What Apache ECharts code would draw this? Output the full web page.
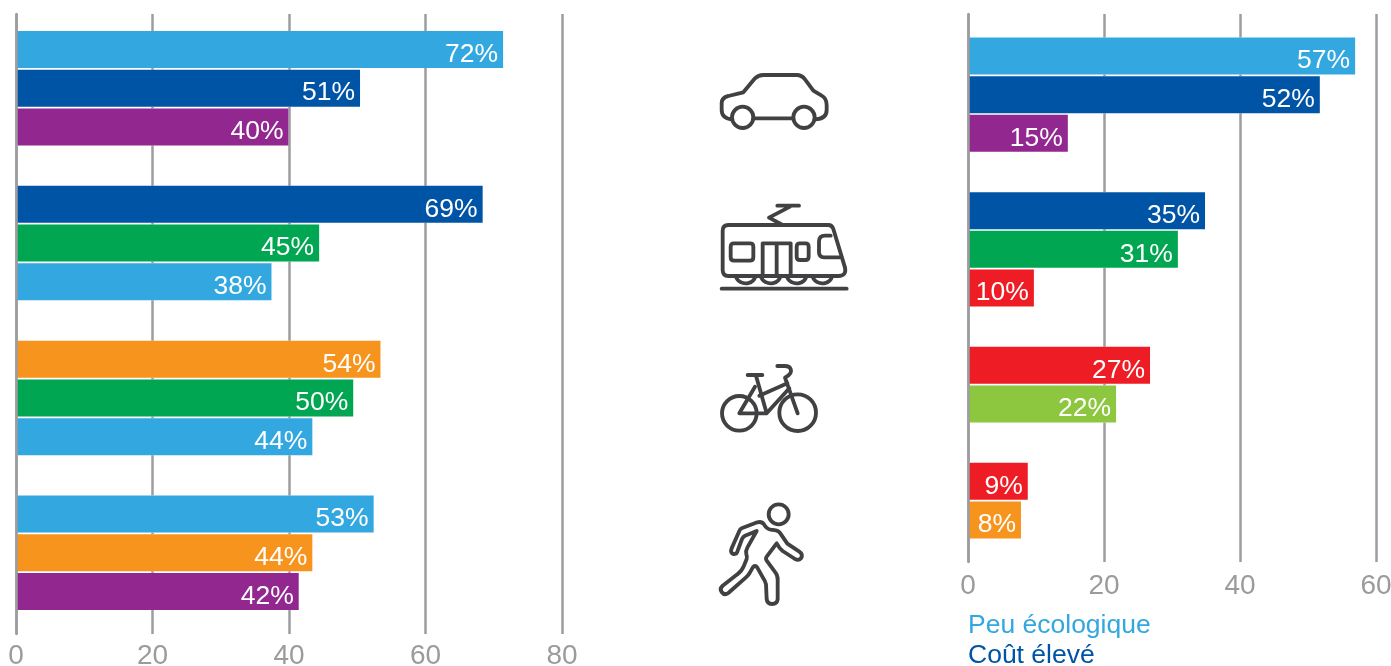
<!DOCTYPE html>
<html><head><meta charset="utf-8">
<style>html,body{margin:0;padding:0;background:#fff}#c{width:1391px;height:666px}</style>
<script src="https://cdn.jsdelivr.net/npm/echarts@6/dist/echarts.min.js"></script>
</head><body><div id="c"></div>
<script>
// ---------- data ----------
const leftCategories = ['Voiture a','Voiture b','Voiture c','','Train a','Train b','Train c',' ','Vélo a','Vélo b','Vélo c','  ','Marche a','Marche b','Marche c'];
const leftValues = [71.5,50.5,40,null,68.5,44.5,37.5,null,53.5,49.5,43.5,null,52.5,43.5,41.5];
const leftKinds  = ['sky','navy','purple',null,'navy','green','sky',null,'orange','green','sky',null,'sky','orange','purple'];
const rightCategories = ['Voiture a','Voiture b','Voiture c','','Train a','Train b','Train c',' ','Vélo a','Vélo b','  ','Marche a','Marche b'];
const rightValues = [57,51.8,14.7,null,34.9,30.9,9.7,null,26.8,21.8,null,8.8,7.8];
const rightKinds  = ['sky','navy','purple',null,'navy','green','red',null,'red','lime',null,'red','orange'];
const legendNames = ['Peu écologique','Coût élevé'];
const leftTicks = {min:0,max:80,interval:20};
const rightTicks = {min:0,max:60,interval:20};

// ---------- styles ----------
const palette = {sky:'#33a8e0',navy:'#0054a6',purple:'#92278f',green:'#00a651',orange:'#f7941e',red:'#ee1c25',lime:'#8dc63f'};
const gridColor = '#9d9d9f', iconColor = '#414042', font = '"Liberation Sans", Arial, sans-serif';
const icons = [
 {x:700,y:60,paths:[
  'M95 178 Q65 175 65 150 L65 130 Q65 112 85 108 L130 97 L165 55 Q175 45 190 45 L290 45 Q305 45 315 58 L340 92 L365 107 Q380 115 380 135 L380 150 Q380 177 345 178',
  'M160 175 L278 175',
  'M96 172 A32 32 0 1 0 160 172 A32 32 0 1 0 96 172 Z',
  'M280 172 A32 32 0 1 0 344 172 A32 32 0 1 0 280 172 Z']},
 {x:700,y:195,paths:[
  'M232 32 L297 32 M270 35 L207 68 L248 90',
  'M85 90 L385 90 Q396 90 400 102 L435 218 Q440 243 415 243 L85 243 Q68 243 68 225 L68 107 Q68 90 85 90 Z',
  'M102 145 L150 145 Q160 145 160 155 L160 187 Q160 197 150 197 L102 197 Q92 197 92 187 L92 155 Q92 145 102 145 Z',
  'M188 243 L188 145 L272 145 L272 243 M230 145 L230 243',
  'M300 145 L316 145 Q326 145 326 155 L326 185 Q326 195 316 195 L300 195 Q290 195 290 185 L290 155 Q290 145 300 145 Z',
  'M392 122 L375 122 Q357 122 357 140 L357 172 Q357 187 372 187 L420 187',
  'M108 245 A30 27 0 0 0 166 245 M183 245 A30 27 0 0 0 241 245 M261 245 A30 27 0 0 0 319 245 M338 245 A30 27 0 0 0 396 245',
  'M65 281 L440 281']},
 {x:700,y:355,paths:[
  'M66 175 A52 52 0 1 0 170 175 A52 52 0 1 0 66 175 Z',
  'M238 173 A55 55 0 1 0 348 173 A55 55 0 1 0 238 173 Z',
  'M143 60 L187 60 M168 62 L200 175 L118 175 L165 95 M178 122 L262 85 M200 175 L268 100',
  'M293 175 L255 68 Q278 55 272 42 Q268 33 255 33 L232 33']},
 {x:700,y:495,paths:[
  'M206 58 A30 30 0 1 0 266 58 A30 30 0 1 0 206 58 Z',
  'M125 100 L172 82 Q185 78 192 88 Q200 102 212 104 L228 106 Q238 108 243 118 L262 146 L298 170 Q310 178 303 190 Q296 198 285 192 L248 168 Q238 160 230 145 L200 185 Q196 190 200 197 L226 232 Q234 242 233 255 L233 312 Q232 327 216 327 Q201 326 200 312 L198 268 Q196 258 190 250 L172 218 Q165 208 158 218 L150 232 Q146 240 138 247 L85 294 Q73 302 65 291 Q58 282 68 272 L112 238 Q126 228 132 212 L140 192 Q142 185 139 178 Q136 168 142 158 L170 108 L135 122 Q129 125 126 132 L112 170 Q108 180 98 176 Q90 172 95 160 L118 108 Q120 102 125 100 Z']}
];

// white halo behind each bar: it interrupts the grid lines around the bars
function haloSeries(idx, values){
  return {type:'bar', xAxisIndex:idx, yAxisIndex:idx, barWidth:37, z:2, silent:true, animation:false,
    itemStyle:{color:'#fff', borderColor:'#fff', borderWidth:5},
    data: values};
}
function barSeries(idx, values, kinds){
  return {type:'bar', xAxisIndex:idx, yAxisIndex:idx, barWidth:37, z:3,
    data: values.map((v,i)=> v==null ? null : ({value:v, itemStyle:{color:palette[kinds[i]]}})),
    label:{show:true, position:'insideRight', distance:5, offset:[0,5], color:'#fff', fontFamily:font, fontSize:26.5, fontWeight:'normal',
      formatter:p=>p.value==null?'':Math.round(p.value)+'%'},
    animation:false, silent:true};
}
const tickAxis = (t,margin,idx)=>({gridIndex:idx,type:'value',min:t.min,max:t.max,interval:t.interval,
  axisLine:{show:false},axisTick:{show:false},
  axisLabel:{color:'#9b9b9d',fontFamily:font,fontSize:28,margin:margin,showMinLabel:true,showMaxLabel:true,hideOverlap:false},
  splitLine:{show:true,lineStyle:{color:gridColor,width:2.5}}});
const edgeAxis = idx=>({gridIndex:idx,type:'value',min:0,max:1,z:6,splitLine:{show:false},axisTick:{show:false},axisLabel:{show:false},
  axisLine:{show:true,onZero:false,lineStyle:{color:gridColor,width:2.5}}});
const hiddenX = (t,idx)=>({gridIndex:idx,type:'value',min:t.min,max:t.max,show:false});
const hiddenY = (c,idx)=>({gridIndex:idx,type:'category',inverse:true,data:c,show:false});
const leftBarGrid = {left:16,top:30.1,width:545,height:580.8,outerBoundsMode:'none'};
const rightBarGrid = {left:968,top:36.67,width:407.5,height:502.7,outerBoundsMode:'none'};

const chart = echarts.init(document.getElementById('c'),null,{renderer:'canvas'});
chart.setOption({
  animation:false,
  backgroundColor:'#fff',
  grid:[
    {left:16,top:14,width:546,height:620,outerBoundsMode:'none'},
    {left:968,top:14,width:408,height:548,outerBoundsMode:'none'},
    leftBarGrid, rightBarGrid, leftBarGrid, rightBarGrid
  ],
  xAxis:[tickAxis(leftTicks,8,0),tickAxis(rightTicks,10,1),hiddenX(leftTicks,2),hiddenX(rightTicks,3),hiddenX(leftTicks,4),hiddenX(rightTicks,5)],
  yAxis:[edgeAxis(0),edgeAxis(1),hiddenY(leftCategories,2),hiddenY(rightCategories,3),hiddenY(leftCategories,4),hiddenY(rightCategories,5)],
  series:[
    haloSeries(4,leftValues),
    haloSeries(5,rightValues),
    barSeries(2,leftValues,leftKinds),
    barSeries(3,rightValues,rightKinds),
    {type:'custom',coordinateSystem:'none',data:[0],silent:true,z:4,
     renderItem:()=>({type:'group',children:icons.map(ic=>({
        type:'group',x:ic.x,y:ic.y,scaleX:1/3,scaleY:1/3,
        children:ic.paths.map(d=>({type:'path',shape:{pathData:d},
          style:{fill:'none',stroke:iconColor,lineWidth:11.5,lineCap:'round',lineJoin:'round'}}))
     }))})}
  ],
  graphic:legendNames.map((n,i)=>({type:'text',left:968,top:i===0?612:642,silent:true,
    style:{text:n,fill:i===0?palette.sky:palette.navy,font:'26.5px '+font}}))
});
</script></body></html>
